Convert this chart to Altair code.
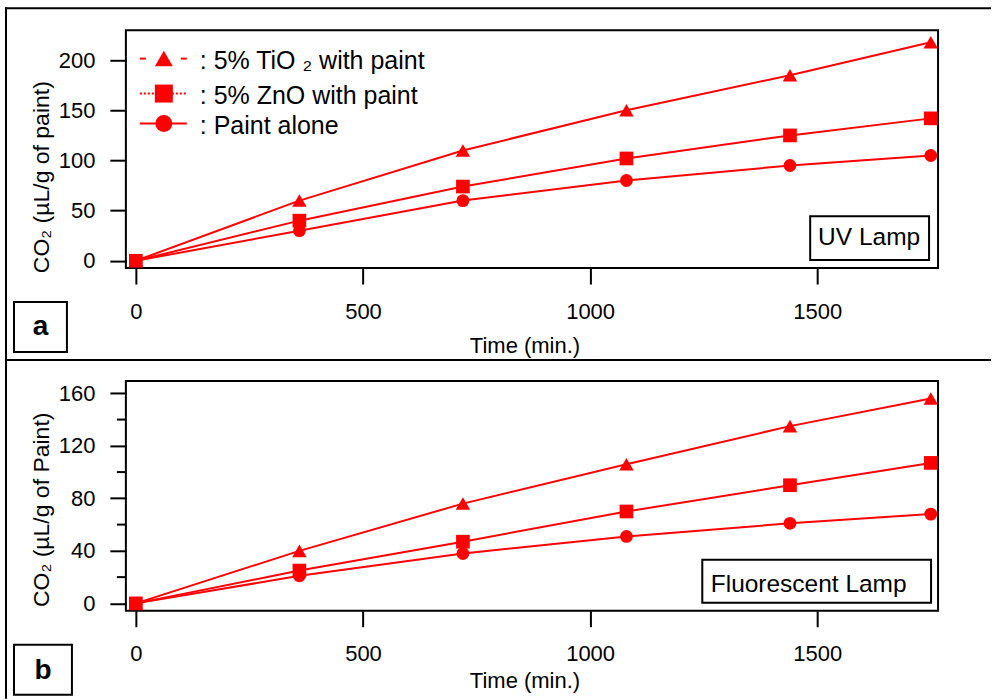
import altair as alt
import pandas as pd

# ---------------- data ----------------
time_min = [0, 360, 720, 1080, 1440, 1750]
series_names = ["TiO2", "ZnO", "Paint"]

uv_tio2 = [0, 60, 110, 150, 185, 218]
uv_zno = [0, 40, 74, 102, 125, 142]
uv_paint = [0, 30, 60, 80, 95, 105]

fl_tio2 = [0, 40, 76, 106, 135, 156]
fl_zno = [0, 25, 47, 70, 90, 107]
fl_paint = [0, 21, 38, 51, 61, 68]

legend_labels = [": 5% TiO \u2082 with paint", ": 5% ZnO with paint", ": Paint alone"]
x_ticks = [0, 500, 1000, 1500]
uv_y_ticks = [0, 50, 100, 150, 200]
fl_y_ticks = [0, 40, 80, 120, 160]
fl_y_minor = [20, 60, 100, 140]
panel_letters = ["a", "b"]
lamp_labels = ["UV Lamp", "Fluorescent Lamp"]
x_title = "Time (min.)"
uv_y_title = "CO\u2082 (\u00b5L/g of paint)"
fl_y_title = "CO\u2082 (\u00b5L/g of Paint)"

FONT = "Liberation Sans"
RED = "#ff0000"
W = 813


def long_df(a, b, c):
    rows = []
    for name, vals in zip(series_names, [a, b, c]):
        for t, v in zip(time_min, vals):
            rows.append({"time": t, "co2": v, "series": name})
    return pd.DataFrame(rows)


def one():
    return alt.Chart(alt.Data(values=[{"d": 0}]))


def hrule(x1, x2, y, dash=None, color="black", width=2):
    kw = dict(color=color, strokeWidth=width, strokeCap="square")
    if dash:
        kw["strokeDash"] = dash
        kw["strokeCap"] = "butt"
    return one().mark_rule(**kw).encode(x=alt.value(x1), x2=alt.value(x2), y=alt.value(y))


def vrule(x, y1, y2):
    return one().mark_rule(color="black", strokeWidth=2, strokeCap="square").encode(
        x=alt.value(x), y=alt.value(y1), y2=alt.value(y2))


def box(x1, x2, y1, y2):
    return one().mark_rect(fill="white", stroke="black", strokeWidth=2).encode(
        x=alt.value(x1), x2=alt.value(x2), y=alt.value(y1), y2=alt.value(y2))


def label(txt, x, y, size, weight="normal", align="left", baseline="middle"):
    return one().mark_text(font=FONT, fontSize=size, fontWeight=weight, align=align,
                           baseline=baseline, color="black").encode(
        x=alt.value(x), y=alt.value(y), text=alt.value(txt))


def panel(df, ydomain, yticks, ytitle, ytitle_y, xtitle_y):
    x = alt.X("time:Q", scale=alt.Scale(domain=[-22, 1766], nice=False, zero=False),
              axis=alt.Axis(values=x_ticks, format="d", title=x_title, titleX=399,
                            titleY=xtitle_y, titleBaseline="alphabetic", titleAlign="center",
                            labelPadding=17))
    y = alt.Y("co2:Q", scale=alt.Scale(domain=ydomain, nice=False, zero=False),
              axis=alt.Axis(values=yticks, format="d", title=ytitle, titleAngle=270,
                            titleX=-84, titleY=ytitle_y, titleAlign="center",
                            titleBaseline="middle", titleFontSize=23, labelPadding=15))
    lines = alt.Chart(df).mark_line(color=RED, strokeWidth=2).encode(
        x=x, y=y, detail="series:N")
    pts = alt.Chart(df).mark_point(filled=True, color=RED, opacity=1).encode(
        x=x, y=y,
        shape=alt.Shape("series:N", scale=alt.Scale(domain=series_names,
                                                    range=["triangle-up", "square", "circle"]),
                        legend=None),
        size=alt.Size("series:N", scale=alt.Scale(domain=series_names, range=[210, 165, 150]),
                      legend=None))
    return lines, pts


# ---------------- top panel (UV) ----------------
df_uv = long_df(uv_tio2, uv_zno, uv_paint)
l1, p1 = panel(df_uv, [-7.3, 229.8], uv_y_ticks, uv_y_title, 146.5, 85)

top_layers = [l1, p1]
# outer frame
top_layers += [hrule(-120, 865, -22), vrule(-120, -22, 330), hrule(-120, 865, 330)]
# legend
row_y = [28.3, 63.3, 93.3]
shapes = ["triangle-up", "square", "circle"]
sizes = [320, 324, 289]
top_layers.append(hrule(14, 20, row_y[0], dash=[6, 0], color=RED))
top_layers.append(hrule(55, 61, row_y[0], dash=[6, 0], color=RED))
top_layers.append(hrule(14, 61, row_y[1], dash=[2, 2], color=RED))
top_layers.append(hrule(14, 61, row_y[2], dash=[47, 0], color=RED))
for i in range(3):
    top_layers.append(one().mark_point(filled=True, color=RED, opacity=1, shape=shapes[i],
                                       size=sizes[i]).encode(x=alt.value(38), y=alt.value(row_y[i])))
    top_layers.append(label(legend_labels[i], 74, row_y[i] + 2, 25))
# panel letter + lamp box
top_layers += [box(-112, -59, 272, 322), label(panel_letters[0], -85.5, 297, 28, "bold", "center")]
top_layers += [box(685, 804, 186, 230), label(lamp_labels[0], 744, 215, 24.5, align="center",
                                              baseline="alphabetic")]

top = alt.layer(*top_layers).properties(width=W, height=238)

# ---------------- bottom panel (fluorescent) ----------------
df_fl = long_df(fl_tio2, fl_zno, fl_paint)
l2, p2 = panel(df_fl, [-5.6, 169.4], fl_y_ticks, fl_y_title, 128.5, 77)
minor = alt.Chart(pd.DataFrame({"co2": fl_y_minor})).mark_rule(color="black", strokeWidth=2).encode(
    y=alt.Y("co2:Q"), x=alt.value(-9), x2=alt.value(0))

bot_layers = [l2, p2, minor, vrule(-120, -21, 317)]
bot_layers += [box(-112, -54, 264, 314), label(panel_letters[1], -83, 290, 28, "bold", "center")]
bot_layers += [box(577, 806, 179, 222), label(lamp_labels[1], 683.5, 211, 24.5, align="center",
                                              baseline="alphabetic")]
bottom = alt.layer(*bot_layers).properties(width=W, height=230)

chart = alt.vconcat(top, bottom, spacing=113, bounds="flush").properties(
    padding={"left": 3, "top": 5, "right": 0, "bottom": 0},
    background="white",
).configure_view(stroke="black", strokeWidth=2).configure_axis(
    domain=False, grid=False, tickSize=16, tickWidth=2, tickColor="black",
    labelFont=FONT, labelFontSize=22, labelColor="black",
    titleFont=FONT, titleFontSize=22, titleColor="black", titleFontWeight="normal"
)

chart.save("out.html", embed_options={"renderer": "svg", "actions": False})
